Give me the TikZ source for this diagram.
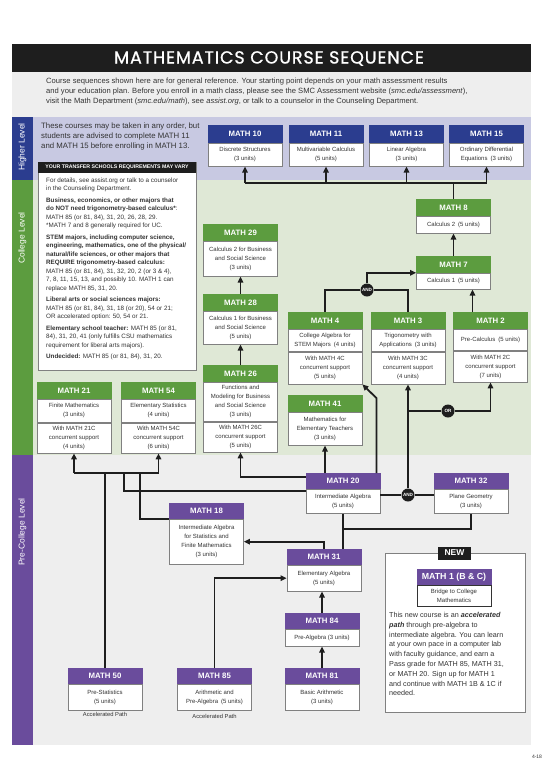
\documentclass[tikz,border=0pt]{standalone}
\usepackage{fontspec}
\setmainfont{Liberation Sans}
\newfontfamily\titolofont[FakeBold=0.8, LetterSpace=5]{Poppins}
\usepackage{tikz}
\usetikzlibrary{positioning, arrows.meta}

\definecolor{blu}{HTML}{2B3D8F}
\definecolor{verde}{HTML}{5C9C3F}
\definecolor{viola}{HTML}{6A4C9C}
\definecolor{lavanda}{HTML}{C8C9E2}
\definecolor{verdino}{HTML}{DFE8D6}
\definecolor{grigino}{HTML}{EEEEEE}
\definecolor{bordo}{HTML}{808080}
\definecolor{nero}{HTML}{1E1E1E}
\definecolor{testo}{HTML}{333333}

\begin{document}
\begin{tikzpicture}[x=1pt, y=-1pt,
  linea/.style={draw=nero, line width=1.8pt},
  freccia/.style={linea, -{Triangle[length=6pt,width=5.5pt]}},
  testa/.style={fill=#1, draw=#1, line width=0.8pt, text=white, minimum width=74pt, minimum height=16pt,
    inner sep=0pt, anchor=north, font=\fontsize{7.8}{9}\selectfont\bfseries},
  livsup/.style={testa=blu, minimum height=17pt},
  livcol/.style={testa=verde},
  livpre/.style={testa=viola, minimum height=15pt},
  corpo/.style={draw=bordo, line width=0.8pt, fill=white, text=testo, minimum width=74pt, inner sep=0pt,
    align=center, below=0pt of #1, font=\fontsize{6}{9}\selectfont},
  porta/.style={circle, fill=nero, text=white, inner sep=0pt, minimum size=13pt, font=\fontsize{4.6}{5}\selectfont\bfseries},
  livello/.style={rotate=90, text=white, font=\fontsize{8.5}{9}\selectfont}]
  \useasboundingbox (0,0) rectangle (550,777);

  % fasce
  \fill[nero] (12,44) rectangle (531,72);
  \fill[grigino] (12,72) rectangle (531,117);
  \fill[lavanda] (12,117) rectangle (531,180);
  \fill[verdino] (12,180) rectangle (531,455);
  \fill[grigino] (12,455) rectangle (531,745);
  \fill[blu] (12,117) rectangle (33,180);
  \fill[verde] (12,180) rectangle (33,455);
  \fill[viola] (12,455) rectangle (33,745);
  \node[livello] (lsup) at (22.5,147) {Higher Level};
  \node[livello] (lcol) at (22.5,238) {College Level};
  \node[livello] (lpre) at (22.5,532) {Pre-College Level};

  % titolo
  \node[text=white, font=\titolofont\fontsize{17.5}{18}\selectfont] (titolo) at (269,58.5) {MATHEMATICS COURSE SEQUENCE};
  \node[anchor=north west, align=left, inner sep=0pt, text=testo, font=\fontsize{7.6}{10}\selectfont] (intro) at (46,77.5)
    {Course sequences shown here are for general reference. Your starting point depends on your math assessment results\\
     and your education plan. Before you enroll in a math class, please see the SMC Assessment website (\textit{smc.edu/assessment}),\\
     visit the Math Department (\textit{smc.edu/math}), see \textit{assist.org}, or talk to a counselor in the Counseling Department.};

  % riquadro a sinistra
  \node[anchor=north west, align=left, inner sep=0pt, text=testo, font=\fontsize{7.8}{10}\selectfont] (ordine) at (41,122.5)
    {These courses may be taken in any order, but\\
     students are advised to complete MATH 11\\
     and MATH 15 before enrolling in MATH 13.};
  \draw[bordo, line width=0.8pt, fill=white] (38,162) rectangle (196,370);
  \node[fill=nero, text=white, minimum width=158pt, minimum height=10.5pt, inner sep=0pt,
    font=\fontsize{5.2}{6}\selectfont\bfseries] (trasf) at (117,167.5) {YOUR TRANSFER SCHOOLS REQUIREMENTS MAY VARY};
  \node[anchor=north west, align=left, inner sep=0pt, text=testo, font=\fontsize{6.3}{8.5}\selectfont] (dettagli) at (46,177.5)
    {For details, see assist.org or talk to a counselor\\
     in the Counseling Department.\\[3pt]
     \textbf{Business, economics, or other majors that}\\
     \textbf{do NOT need trigonometry-based calculus*}:\\
     MATH 85 (or 81, 84), 31, 20, 26, 28, 29.\\
     *MATH 7 and 8 generally required for UC.\\[3pt]
     \textbf{STEM majors, including computer science,}\\
     \textbf{engineering, mathematics, one of the physical/}\\
     \textbf{natural/life sciences, or other majors that}\\
     \textbf{REQUIRE trigonometry-based calculus:}\\
     MATH 85 (or 81, 84), 31, 32, 20, 2 (or 3 \& 4),\\
     7, 8, 11, 15, 13, and possibly 10. MATH 1 can\\
     replace MATH 85, 31, 20.\\[3pt]
     \textbf{Liberal arts or social sciences majors:}\\
     MATH 85 (or 81, 84), 31, 18 (or 20), 54 or 21;\\
     OR accelerated option: 50, 54 or 21.\\[3pt]
     \textbf{Elementary school teacher:} MATH 85 (or 81,\\
     84), 31, 20, 41 (only fulfills CSU mathematics\\
     requirement for liberal arts majors).\\[3pt]
     \textbf{Undecided:} MATH 85 (or 81, 84), 31, 20.};

  % livello superiore
  \node[livsup] (m10t) at (245,125) {MATH 10};
  \node[corpo=m10t, minimum height=23pt] (m10) {Discrete Structures\\(3 units)};
  \node[livsup] (m11t) at (326,125) {MATH 11};
  \node[corpo=m11t, minimum height=23pt] (m11) {Multivariable Calculus\\(5 units)};
  \node[livsup] (m13t) at (406.5,125) {MATH 13};
  \node[corpo=m13t, minimum height=23pt] (m13) {Linear Algebra\\(3 units)};
  \node[livsup] (m15t) at (486.5,125) {MATH 15};
  \node[corpo=m15t, minimum height=23pt] (m15) {Ordinary Differential\\Equations\enspace(3 units)};

  % livello college
  \node[livcol] (m8t) at (453.5,199) {MATH 8};
  \node[corpo=m8t, minimum height=17pt] (m8) {Calculus 2\enspace(5 units)};
  \node[livcol] (m7t) at (453.5,256) {MATH 7};
  \node[corpo=m7t, minimum height=16pt] (m7) {Calculus 1\enspace(5 units)};
  \node[livcol] (m29t) at (240.5,224) {MATH 29};
  \node[corpo=m29t, minimum height=35pt] (m29) {Calculus 2 for Business\\and Social Science\\(3 units)};
  \node[livcol] (m28t) at (240.5,294) {MATH 28};
  \node[corpo=m28t, minimum height=33pt] (m28) {Calculus 1 for Business\\and Social Science\\(5 units)};
  \node[livcol] (m26t) at (240.5,365) {MATH 26};
  \node[corpo=m26t, minimum height=39pt] (m26) {Functions and\\Modeling for Business\\and Social Science\\(3 units)};
  \node[corpo=m26, minimum height=30pt] (m26s) {With MATH 26C\\concurrent support\\(5 units)};
  \node[livcol] (m4t) at (325,312) {MATH 4};
  \node[corpo=m4t, minimum height=22pt] (m4) {College Algebra for\\STEM Majors\enspace(4 units)};
  \node[corpo=m4, minimum height=32pt] (m4s) {With MATH 4C\\concurrent support\\(5 units)};
  \node[livcol] (m3t) at (408,312) {MATH 3};
  \node[corpo=m3t, minimum height=22pt] (m3) {Trigonometry with\\Applications\enspace(3 units)};
  \node[corpo=m3, minimum height=32pt] (m3s) {With MATH 3C\\concurrent support\\(4 units)};
  \node[livcol] (m2t) at (490.5,312) {MATH 2};
  \node[corpo=m2t, minimum height=21pt] (m2) {Pre-Calculus\enspace(5 units)};
  \node[corpo=m2, minimum height=31pt] (m2s) {With MATH 2C\\concurrent support\\(7 units)};
  \node[livcol] (m41t) at (325,395) {MATH 41};
  \node[corpo=m41t, minimum height=33pt] (m41) {Mathematics for\\Elementary Teachers\\(3 units)};
  \node[livcol] (m21t) at (74,382) {MATH 21};
  \node[corpo=m21t, minimum height=23pt] (m21) {Finite Mathematics\\(3 units)};
  \node[corpo=m21, minimum height=30pt] (m21s) {With MATH 21C\\concurrent support\\(4 units)};
  \node[livcol] (m54t) at (158.5,382) {MATH 54};
  \node[corpo=m54t, minimum height=23pt] (m54) {Elementary Statistics\\(4 units)};
  \node[corpo=m54, minimum height=30pt] (m54s) {With MATH 54C\\concurrent support\\(6 units)};

  % livello pre-college
  \node[livpre] (m20t) at (343,473) {MATH 20};
  \node[corpo=m20t, minimum height=24pt] (m20) {Intermediate Algebra\\(5 units)};
  \node[livpre] (m32t) at (471,473) {MATH 32};
  \node[corpo=m32t, minimum height=24pt] (m32) {Plane Geometry\\(3 units)};
  \node[livpre] (m18t) at (206.5,503) {MATH 18};
  \node[corpo=m18t, minimum height=45pt] (m18) {Intermediate Algebra\\for Statistics and\\Finite Mathematics\\(3 units)};
  \node[livpre] (m31t) at (324,549) {MATH 31};
  \node[corpo=m31t, minimum height=26pt] (m31) {Elementary Algebra\\(5 units)};
  \node[livpre] (m84t) at (322,613) {MATH 84};
  \node[corpo=m84t, minimum height=17pt] (m84) {Pre-Algebra (3 units)};
  \node[livpre] (m81t) at (322,668) {MATH 81};
  \node[corpo=m81t, minimum height=26pt] (m81) {Basic Arithmetic\\(3 units)};
  \node[livpre] (m85t) at (214.5,668) {MATH 85};
  \node[corpo=m85t, minimum height=26pt] (m85) {Arithmetic and\\Pre-Algebra\enspace(5 units)};
  \node[livpre] (m50t) at (105,668) {MATH 50};
  \node[corpo=m50t, minimum height=26pt] (m50) {Pre-Statistics\\(5 units)};
  \node[below=1.5pt of m50, inner sep=0pt, text=testo, font=\fontsize{5.8}{7}\selectfont] (acc50) {Accelerated Path};
  \node[below=3pt of m85, inner sep=0pt, text=testo, font=\fontsize{5.8}{7}\selectfont] (acc85) {Accelerated Path};

  % riquadro nuovo
  \draw[bordo, line width=0.8pt, fill=white] (385,553) rectangle (525,712);
  \node[fill=nero, text=white, minimum width=33pt, minimum height=13pt, inner sep=0pt,
    font=\fontsize{8.5}{9}\selectfont\bfseries] (nuovo) at (454.5,553) {NEW};
  \node[livpre, minimum height=15pt, font=\fontsize{8.8}{9}\selectfont\bfseries] (m1t) at (454,569) {MATH 1 (B \& C)};
  \node[corpo=m1t, minimum height=21pt, draw=testo, line width=1pt] (m1) {Bridge to College\\Mathematics};
  \node[anchor=north west, align=left, inner sep=0pt, text=testo, font=\fontsize{7.2}{9.8}\selectfont] (descr) at (389,612)
    {This new course is an \textbf{\textit{accelerated}}\\
     \textbf{\textit{path}} through pre-algebra to\\
     intermediate algebra. You can learn\\
     at your own pace in a computer lab\\
     with faculty guidance, and earn a\\
     Pass grade for MATH 85, MATH 31,\\
     or MATH 20. Sign up for MATH 1\\
     and continue with MATH 1B \& 1C if\\
     needed.};
  \node[text=testo, font=\fontsize{5}{6}\selectfont] (pagina) at (537,757) {4-18};

  % frecce livello superiore
  \coordinate (bus) at (453.5,183);
  \draw[linea] (m8t.north) -- (bus);
  \draw[linea] (m10.south |- bus) -- (m15.south |- bus);
  \draw[freccia] (m10.south |- bus) -- (m10.south);
  \draw[freccia] (m11.south |- bus) -- (m11.south);
  \draw[freccia] (m13.south |- bus) -- (m13.south);
  \draw[freccia] (m15.south |- bus) -- (m15.south);

  % frecce college
  \draw[freccia] (m7t.north) -- (m8.south);
  \draw[freccia] ([xshift=-18pt]m2t.north) -- ([xshift=-18pt]m2t.north |- m7.south);
  \node[porta] (and1) at (367,290) {AND};
  \draw[linea] (m4t.north) |- (and1.west);
  \draw[linea] (m3t.north) |- (and1.east);
  \draw[freccia] (and1.north) |- (m7t.south west);
  \draw[freccia] (m28t.north) -- (m29.south);
  \draw[freccia] (m26t.north) -- (m28.south);

  % da pre-college a college
  \draw[freccia] ([yshift=-4pt]m20t.north west) -| (m26s.south);
  \draw[freccia] (m41.south |- m20t.north) -- (m41.south);
  \draw[freccia] ([xshift=-4pt]m20t.north east) -- ++(0,-75) -- (m4s.south east);
  \node[porta] (and2) at (408,495) {AND};
  \draw[linea] (m20.east |- and2) -- (and2.west);
  \draw[linea] (and2.east) -- (m32.west |- and2);
  \node[porta] (or1) at (448,411) {OR};
  \draw[freccia] (and2.north) -- (m3s.south);
  \draw[linea] (m3s.south |- or1) -- (or1.west);
  \draw[freccia] (or1.east) -| (m2s.south);

  % frecce pre-college
  \coordinate (nodo31) at (343,529);
  \draw[linea] (m20.south) -- (nodo31) -| (m32.south);
  \draw[linea] (m31t.north -| nodo31) -- (nodo31);
  \draw[freccia] (m31t.north) |- (m18.east);
  \draw[freccia] (m85t.north) |- (m31.west);
  \draw[freccia] (m84t.north) -- (m84t.north |- m31.south);
  \draw[freccia] (m81t.north) -- (m84.south);

  % verso MATH 21 e 54
  \coordinate (bus2) at (105,473);
  \coordinate (b20) at (124,473);
  \coordinate (b18) at (140,473);
  \draw[linea] (m21s.south |- bus2) -- (m54s.south |- bus2);
  \draw[freccia] (m21s.south |- bus2) -- (m21s.south);
  \draw[freccia] (m54s.south |- bus2) -- (m54s.south);
  \draw[linea] (m50t.north) -- (bus2);
  \draw[linea] ([yshift=-2pt]m20.north west) -| (b20);
  \draw[linea] (m18t.south west) -| (b18);
\end{tikzpicture}
\end{document}
